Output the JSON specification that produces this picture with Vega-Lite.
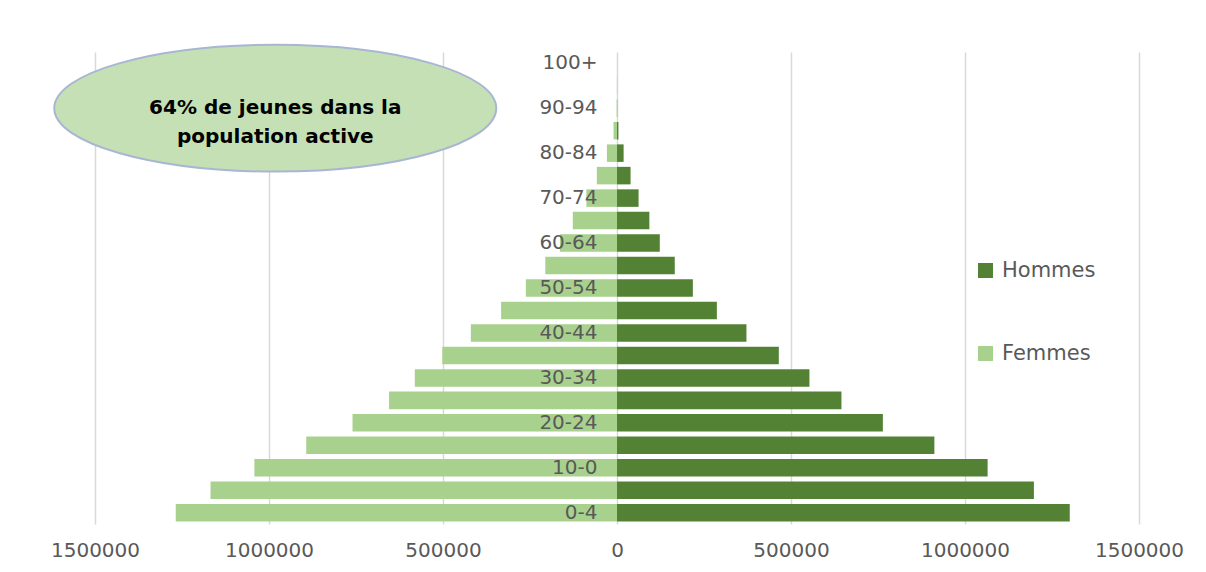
{
  "$schema": "https://vega.github.io/schema/vega-lite/v6.json",
  "autosize": {"type": "none"},
  "width": 1044,
  "height": 472,
  "padding": {"left": 95, "top": 52, "right": 67, "bottom": 48},
  "background": "white",
  "config": {"view": {"stroke": null}, "font": "DejaVu Sans"},
  "layer": [
    {
      "data": {
        "values": [
          {"age": "0-4", "sexe": "Hommes", "population": 1301000},
          {"age": "0-4", "sexe": "Femmes", "population": -1268000},
          {"age": "5-9", "sexe": "Hommes", "population": 1198000},
          {"age": "5-9", "sexe": "Femmes", "population": -1168000},
          {"age": "10-0", "sexe": "Hommes", "population": 1065000},
          {"age": "10-0", "sexe": "Femmes", "population": -1042000},
          {"age": "15-19", "sexe": "Hommes", "population": 912000},
          {"age": "15-19", "sexe": "Femmes", "population": -893000},
          {"age": "20-24", "sexe": "Hommes", "population": 764000},
          {"age": "20-24", "sexe": "Femmes", "population": -760000},
          {"age": "25-29", "sexe": "Hommes", "population": 645000},
          {"age": "25-29", "sexe": "Femmes", "population": -655000},
          {"age": "30-34", "sexe": "Hommes", "population": 553000},
          {"age": "30-34", "sexe": "Femmes", "population": -581000},
          {"age": "35-39", "sexe": "Hommes", "population": 465000},
          {"age": "35-39", "sexe": "Femmes", "population": -502000},
          {"age": "40-44", "sexe": "Hommes", "population": 372000},
          {"age": "40-44", "sexe": "Femmes", "population": -420000},
          {"age": "45-49", "sexe": "Hommes", "population": 287000},
          {"age": "45-49", "sexe": "Femmes", "population": -333000},
          {"age": "50-54", "sexe": "Hommes", "population": 218000},
          {"age": "50-54", "sexe": "Femmes", "population": -262000},
          {"age": "55-59", "sexe": "Hommes", "population": 166000},
          {"age": "55-59", "sexe": "Femmes", "population": -206000},
          {"age": "60-64", "sexe": "Hommes", "population": 123000},
          {"age": "60-64", "sexe": "Femmes", "population": -164000},
          {"age": "65-69", "sexe": "Hommes", "population": 93000},
          {"age": "65-69", "sexe": "Femmes", "population": -127000},
          {"age": "70-74", "sexe": "Hommes", "population": 62000},
          {"age": "70-74", "sexe": "Femmes", "population": -88000},
          {"age": "75-79", "sexe": "Hommes", "population": 39000},
          {"age": "75-79", "sexe": "Femmes", "population": -58000},
          {"age": "80-84", "sexe": "Hommes", "population": 19000},
          {"age": "80-84", "sexe": "Femmes", "population": -29000},
          {"age": "85-89", "sexe": "Hommes", "population": 4000},
          {"age": "85-89", "sexe": "Femmes", "population": -10000},
          {"age": "90-94", "sexe": "Hommes", "population": 500},
          {"age": "90-94", "sexe": "Femmes", "population": -1000},
          {"age": "95-99", "sexe": "Hommes", "population": 100},
          {"age": "95-99", "sexe": "Femmes", "population": -300},
          {"age": "100+", "sexe": "Hommes", "population": 30},
          {"age": "100+", "sexe": "Femmes", "population": -60}
        ]
      },
      "mark": {"type": "bar"},
      "encoding": {
        "y": {
          "field": "age",
          "type": "nominal",
          "scale": {
            "domain": ["100+", "95-99", "90-94", "85-89", "80-84", "75-79", "70-74", "65-69", "60-64", "55-59", "50-54", "45-49", "40-44", "35-39", "30-34", "25-29", "20-24", "15-19", "10-0", "5-9", "0-4"],
            "paddingInner": 0.22,
            "paddingOuter": 0.11
          },
          "axis": {
            "orient": "left",
            "offset": -522,
            "zindex": 1,
            "domain": false,
            "ticks": false,
            "tickSize": 0,
            "grid": false,
            "title": null,
            "labelPadding": 20,
            "labelFontSize": 20,
            "labelColor": "#595959",
            "values": ["100+", "90-94", "80-84", "70-74", "60-64", "50-54", "40-44", "30-34", "20-24", "10-0", "0-4"]
          }
        },
        "x": {
          "field": "population",
          "type": "quantitative",
          "scale": {"domain": [-1500000, 1500000], "nice": false},
          "axis": {
            "title": null,
            "grid": true,
            "gridColor": "#D9D9D9",
            "gridWidth": 1.5,
            "domain": false,
            "ticks": false,
            "tickSize": 0,
            "labelFlush": false,
            "labelPadding": 16,
            "labelFontSize": 20,
            "labelColor": "#595959",
            "values": [-1500000, -1000000, -500000, 0, 500000, 1000000, 1500000],
            "labelExpr": "format(abs(datum.value), 'd')"
          }
        },
        "color": {
          "field": "sexe",
          "type": "nominal",
          "scale": {"domain": ["Hommes", "Femmes"], "range": ["#548235", "#A9D18E"]},
          "legend": {
            "orient": "none",
            "legendX": 880,
            "legendY": 208,
            "title": null,
            "padding": 0,
            "labelFontSize": 21,
            "labelColor": "#595959",
            "labelOffset": 6,
            "symbolType": "square",
            "symbolSize": 225,
            "symbolStrokeWidth": 0,
            "rowPadding": 61
          }
        }
      }
    },
    {
      "data": {"values": [{"x": -982000, "age": "90-94", "note": ["64% de jeunes dans la", "population active"]}]},
      "mark": {
        "type": "point",
        "filled": true,
        "fill": "#C5E0B4",
        "fillOpacity": 1,
        "stroke": "#A9B6D3",
        "strokeWidth": 2,
        "strokeOpacity": 1,
        "opacity": 1,
        "size": 195364,
        "shape": "M -1 0 C -1 -0.1585 -0.5523 -0.287 0 -0.287 C 0.5523 -0.287 1 -0.1585 1 0 C 1 0.1585 0.5523 0.287 0 0.287 C -0.5523 0.287 -1 0.1585 -1 0 Z"
      },
      "encoding": {
        "x": {"field": "x", "type": "quantitative"},
        "y": {"field": "age", "type": "nominal"}
      }
    },
    {
      "data": {"values": [{"x": -982000, "age": "90-94", "note": ["64% de jeunes dans la", "population active"]}]},
      "mark": {
        "type": "text",
        "font": "DejaVu Sans",
        "fontWeight": "bold",
        "fontSize": 20,
        "lineHeight": 29,
        "color": "#000000",
        "align": "center",
        "baseline": "middle"
      },
      "encoding": {
        "x": {"field": "x", "type": "quantitative"},
        "y": {"field": "age", "type": "nominal"},
        "text": {"field": "note"}
      }
    }
  ]
}
